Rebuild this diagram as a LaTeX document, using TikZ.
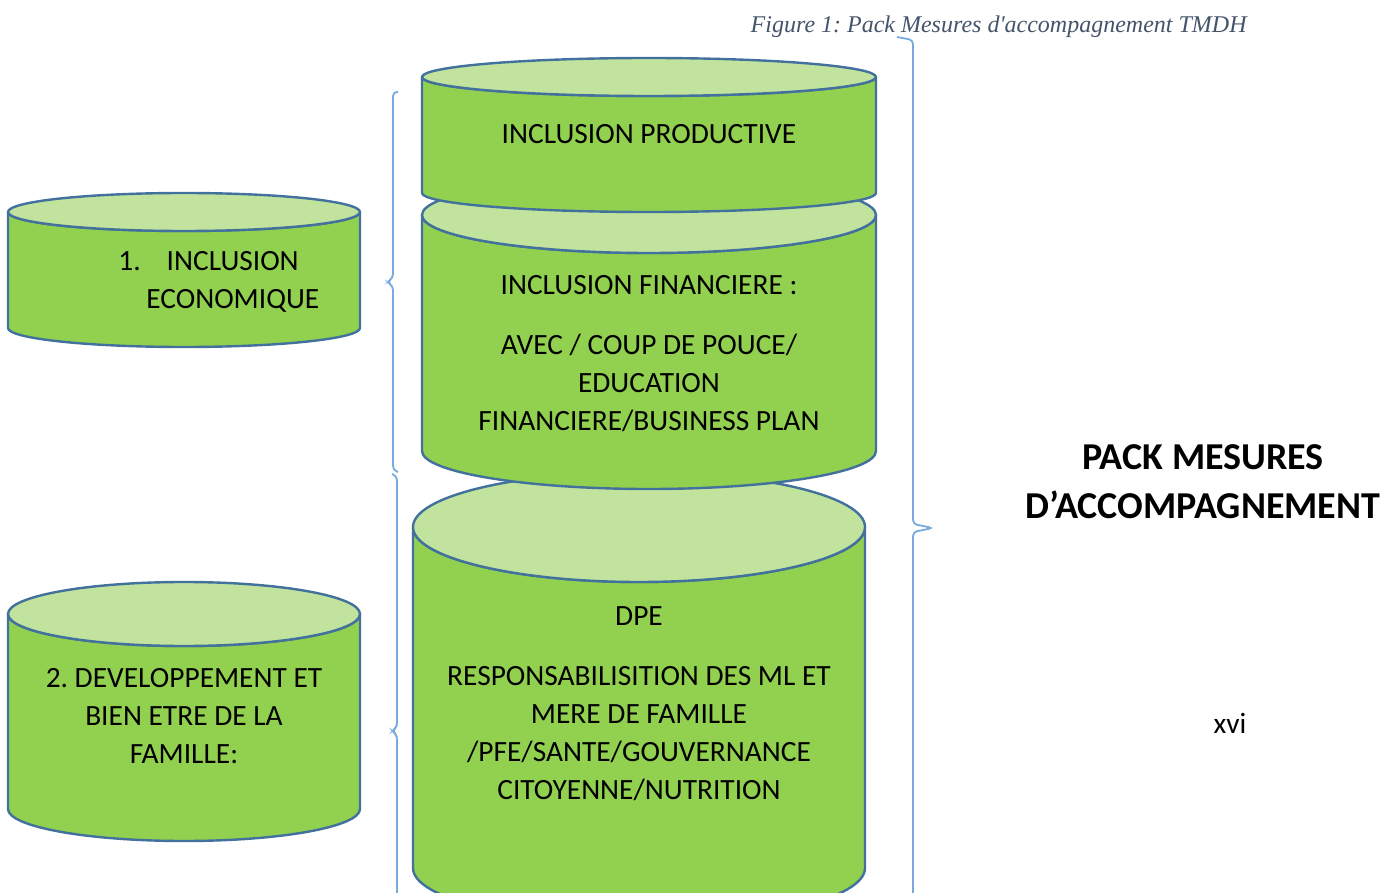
\documentclass[tikz,border=0pt]{standalone}
\usepackage{fontspec}
\setmainfont{Carlito}
\newfontfamily\capfont{Liberation Serif}
\frenchspacing
\definecolor{cylbody}{RGB}{146, 208, 80}
\definecolor{cyltop}{RGB}{194, 227, 158}
\definecolor{cylline}{RGB}{65, 113, 156}
\definecolor{braceblue}{RGB}{120, 170, 222}
\definecolor{capgray}{RGB}{68, 84, 106}
\usepackage{tikz}
\usetikzlibrary{positioning, calc}

% x1, x2, y of top ellipse, y of bottom ellipse, y radius
\newcommand{\cyldraw}[5]{%
  \pgfmathsetmacro\cylrx{(#2-#1)/2}
  \draw[cylborder, fill=cylbody] (#1,#3) -- (#1,#4)
    arc[start angle=180, end angle=0, x radius=\cylrx, y radius=#5] -- (#2,#3)
    arc[start angle=0, end angle=180, x radius=\cylrx, y radius=#5] -- cycle;
  \draw[cylborder, fill=cyltop] ({(#1+#2)/2},#3) ellipse[x radius=\cylrx, y radius=#5];
}

\begin{document}
\begin{tikzpicture}[
  x=0.5pt, y=-0.5pt,
  cylborder/.style={draw=cylline, line width=1.2pt, line join=round},
  cyltext/.style={font=\fontsize{14.7}{19}\selectfont, align=center, inner sep=0pt},
  bracket/.style={draw=braceblue, line width=0.9pt, rounded corners=2pt}
]
  \useasboundingbox (0,0) rectangle (1398,893);
  \clip (0,0) rectangle (1398,893);

  % cylinders, back to front
  \cyldraw{413}{865}{527}{868}{55}
  \cyldraw{422}{876}{215}{451}{38}
  \cyldraw{422}{876}{77}{193}{19}
  \cyldraw{8}{360}{212}{328}{19}
  \cyldraw{8}{360}{614}{809}{32}

  \node[cyltext] (prodtxt) at (649, 134) {INCLUSION PRODUCTIVE};
  \node[cyltext] (fintxt) at (649, 354) {INCLUSION FINANCIERE :\\[11pt]
    AVEC / COUP DE POUCE/\\EDUCATION\\FINANCIERE/BUSINESS PLAN};
  \node[cyltext] (dpetxt) at (639, 704) {DPE\\[11pt]
    RESPONSABILISITION DES ML ET\\MERE DE FAMILLE\\/PFE/SANTE/GOUVERNANCE\\CITOYENNE/NUTRITION};
  \node[cyltext, align=left, anchor=west] (ecotxt) at (118, 282)
    {1.\hspace{13pt}INCLUSION\\\hspace{14pt}ECONOMIQUE};
  \node[cyltext] (famtxt) at (184, 716) {2. DEVELOPPEMENT ET\\BIEN ETRE DE LA\\FAMILLE:};

  % brackets
  \draw[bracket] (398,92) -- (393,92) -- (393,278) -- (387,282) -- (393,286) -- (393,470) -- (398,472);
  \draw[bracket] (392,474) -- (397,476) -- (397,727) -- (392,731) -- (397,735) -- (397,900);
  \draw[bracket] (897,37) -- (913,40) -- (913,524) -- (933,528) -- (913,532) -- (913,900);

  \node[font=\fontsize{19}{24.5}\selectfont\bfseries, align=center, inner sep=0pt] (title) at (1203, 482)
    {PACK MESURES\\D’ACCOMPAGNEMENT};
  \node[font=\capfont\itshape\fontsize{12}{14}\selectfont, text=capgray, anchor=east, inner sep=0pt] (caption) at (1247, 27)
    {Figure 1: Pack Mesures d'accompagnement TMDH};
  \node[font=\fontsize{14.7}{19}\selectfont, inner sep=0pt] (pagenum) at (1230, 723) {xvi};
\end{tikzpicture}
\end{document}
